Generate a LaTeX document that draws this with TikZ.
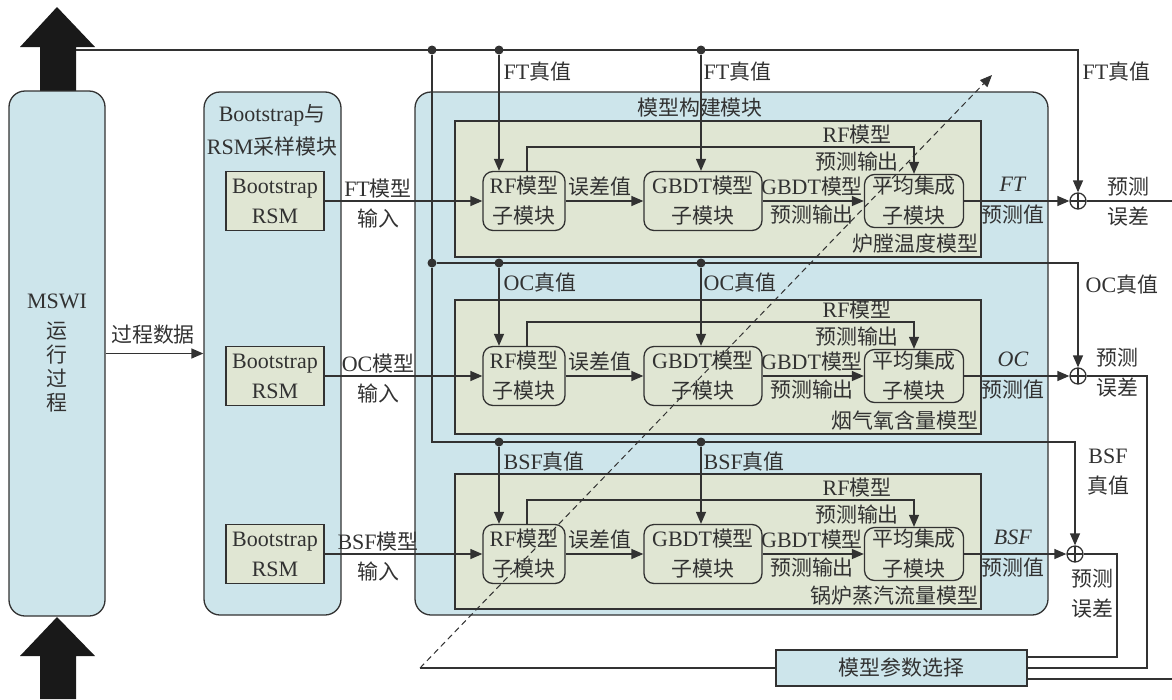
\documentclass[tikz,border=0pt]{standalone}
\usepackage{fontspec}
\setmainfont{Liberation Serif}
\newfontfamily\cjk[Scale=0.95]{Noto Sans CJK SC}
\usetikzlibrary{arrows.meta,calc}
\newcommand\zh[1]{{\cjk #1}}
\definecolor{cblue}{RGB}{205,229,235}
\definecolor{cgreen}{RGB}{224,230,211}
\definecolor{cline}{RGB}{50,50,50}
\begin{document}
\begin{tikzpicture}[x=1pt,y=-1pt,line width=1.3pt,color=cline,
  every node/.style={font=\fontsize{22}{30}\selectfont, inner sep=0pt},
  bbox/.style={draw, fill=cblue, rounded corners=16pt},
  gbox/.style={draw, fill=cgreen},
  sub/.style={draw, fill=cgreen, rounded corners=10pt, minimum height=59pt, align=center},
  bsbox/.style={draw, fill=cgreen, minimum width=98pt, minimum height=59pt, align=center},
  lbl/.style={align=center},
  dotn/.style={circle, fill, minimum size=9pt, inner sep=0pt},
  arr/.style={-{Triangle[length=12pt,width=10pt]}},
  sumn/.style={circle, draw, fill=white, minimum size=16pt, inner sep=0pt,
    path picture={\draw (path picture bounding box.north) -- (path picture bounding box.south)
      (path picture bounding box.west) -- (path picture bounding box.east);}},
  dashln/.style={line width=1pt, dash pattern=on 6pt off 4pt}
]
\useasboundingbox (0,0) rectangle (1172,699);

% big black arrows
\fill[black!90] (40,92) -- (40,47) -- (20,47) -- (57,7) -- (95,47) -- (76,47) -- (76,92) -- cycle;
\fill[black!90] (40,699) -- (40,656) -- (20,656) -- (57,617) -- (95,656) -- (76,656) -- (76,699) -- cycle;

% main containers
\node[bbox, minimum width=96pt, minimum height=525pt, align=center,
      font=\fontsize{22}{24}\selectfont] (mswi) at (57,353.5)
      {MSWI\\[6pt]\zh{运}\\\zh{行}\\\zh{过}\\\zh{程}};
\node[bbox, minimum width=137pt, minimum height=523pt] (bsm) at (272.5,353.5) {};
\node (bst1) at (272,115) {Bootstrap\zh{与}};
\node (bst2) at (272,147) {RSM\zh{采样模块}};
\node[bbox, minimum width=633pt, minimum height=523pt] (mb) at (731.5,353.5) {};
\node (mbt) at (700,108) {\zh{模型构建模块}};

\draw[arr] (mswi.east) -- (mswi.east -| bsm.west);
\node (pd) at (153,335) {\zh{过程数据}};

% rows
\foreach \r/\Y/\T/\gy/\gh/\bot in {1/201/FT/189/136/{炉膛温度模型}, 2/376/OC/367/134/{烟气氧含量模型}, 3/554/BSF/541.5/135/{锅炉蒸汽流量模型}}{
  \node[gbox, minimum width=526pt, minimum height=\gh pt] (g\r) at (718,\gy) {};
  \node[anchor=east] (gl\r) at ($(g\r.south east)+(-3,-14)$) {\zh{\bot}};
  \node[bsbox] (bs\r) at (275,\Y) {Bootstrap\\RSM};
  \node[sub, minimum width=82pt] (rf\r) at (524,\Y) {RF\zh{模型}\\\zh{子模块}};
  \node[sub, minimum width=118pt] (gb\r) at (703,\Y) {GBDT\zh{模型}\\\zh{子模块}};
  \node[sub, minimum width=99pt, minimum height=53pt] (av\r) at (914,\Y) {\zh{平均集成}\\\zh{子模块}};
  \draw[arr] (bs\r.east) -- (rf\r.west);
  \draw[arr] (rf\r.east) -- (gb\r.west);
  \draw[arr] (gb\r.east) -- (av\r.west);
  \draw[arr] ([xshift=3pt]rf\r.north) -- ++(0,-24) -| (av\r.north);
  \node[lbl] (in\r) at (378,\Y+3) {\T\zh{模型}\\\zh{输入}};
  \node (er\r) at (600,\Y-14) {\zh{误差值}};
  \node (go\r) at (812,\Y-14) {GBDT\zh{模型}};
  \node (gp\r) at (812,\Y+14) {\zh{预测输出}};
  \node (ro\r) at (857,\Y-66) {RF\zh{模型}};
  \node (rp\r) at (857,\Y-39) {\zh{预测输出}};
  \node (pt\r) at (1013,\Y-17) {\textit{\T}};
  \node (pv\r) at (1013,\Y+14) {\zh{预测值}};
}

% summing junctions
\node[sumn] (s1) at (1078,201) {};
\node[sumn] (s2) at (1078,376) {};
\node[sumn] (s3) at (1075,554) {};
\draw[arr] (av1.east) -- (s1.west);
\draw[arr] (av2.east) -- (s2.west);
\draw[arr] (av3.east) -- (s3.west);

% true value lines
\coordinate (ts) at (76,50);
\node[dotn] (d1) at (432,50) {};
\node[dotn] (d2) at (499,50) {};
\node[dotn] (d3) at (701,50) {};
\draw[arr] (ts) -| (s1.north);
\draw (d1) -- (d1 |- 0,263);
\draw[arr] (d2) -- (d2 |- rf1.north);
\draw[arr] (d3) -- (d3 |- gb1.north);

\node[dotn] (e1) at (432,263) {};
\node[dotn] (e2) at (499,263) {};
\node[dotn] (e3) at (701,263) {};
\draw[arr] (e1) -| (s2.north);
\draw[arr] (e2) -- (e2 |- rf2.north);
\draw[arr] (e3) -- (e3 |- gb2.north);

\coordinate (c3) at (432,442);
\node[dotn] (f2) at (499,442) {};
\node[dotn] (f3) at (701,442) {};
\draw[arr] (e1) -- (c3) -| (s3.north);
\draw[arr] (f2) -- (f2 |- rf3.north);
\draw[arr] (f3) -- (f3 |- gb3.north);

\node[anchor=west] (t11) at (503,72) {FT\zh{真值}};
\node[anchor=west] (t12) at (703,72) {FT\zh{真值}};
\node[anchor=west] (t13) at (1082,72) {FT\zh{真值}};
\node[anchor=west] (t21) at (503,283) {OC\zh{真值}};
\node[anchor=west] (t22) at (703,283) {OC\zh{真值}};
\node[anchor=west] (t23) at (1085,285) {OC\zh{真值}};
\node[anchor=west] (t31) at (503,462) {BSF\zh{真值}};
\node[anchor=west] (t32) at (703,462) {BSF\zh{真值}};
\node[lbl] (t33) at (1108,472) {BSF\\\zh{真值}};

\node[lbl] (pe1) at (1128,202) {\zh{预测}\\\zh{误差}};
\node[lbl] (pe2) at (1117,373) {\zh{预测}\\\zh{误差}};
\node[lbl] (pe3) at (1092,594) {\zh{预测}\\\zh{误差}};

% parameter selection
\node[draw, fill=cblue, minimum width=251pt, minimum height=36pt] (sel) at (901.5,668) {\zh{模型参数选择}};
\coordinate (xoc) at (1147,0);
\coordinate (xbs) at (1117,0);
\coordinate (xr) at (1172,0);
\coordinate (selA) at ([yshift=11pt]sel.east);
\coordinate (selB) at ([yshift=-11pt]sel.east);
\draw (s3.east) -| (xbs |- selA) -- (selA);
\draw (s2.east) -| (xoc |- sel.east) -- (sel.east);
\draw (s1.east) -- (s1.east -| xr);
\draw (selB) -- (selB -| xr);
\coordinate (dlx) at (420,0);
\coordinate (dl) at (sel.west -| dlx);
\coordinate (dt) at (992,75);
\draw (sel.west) -- (dl);
\draw[arr, dashln] (dl) -- (dt);
\end{tikzpicture}
\end{document}
